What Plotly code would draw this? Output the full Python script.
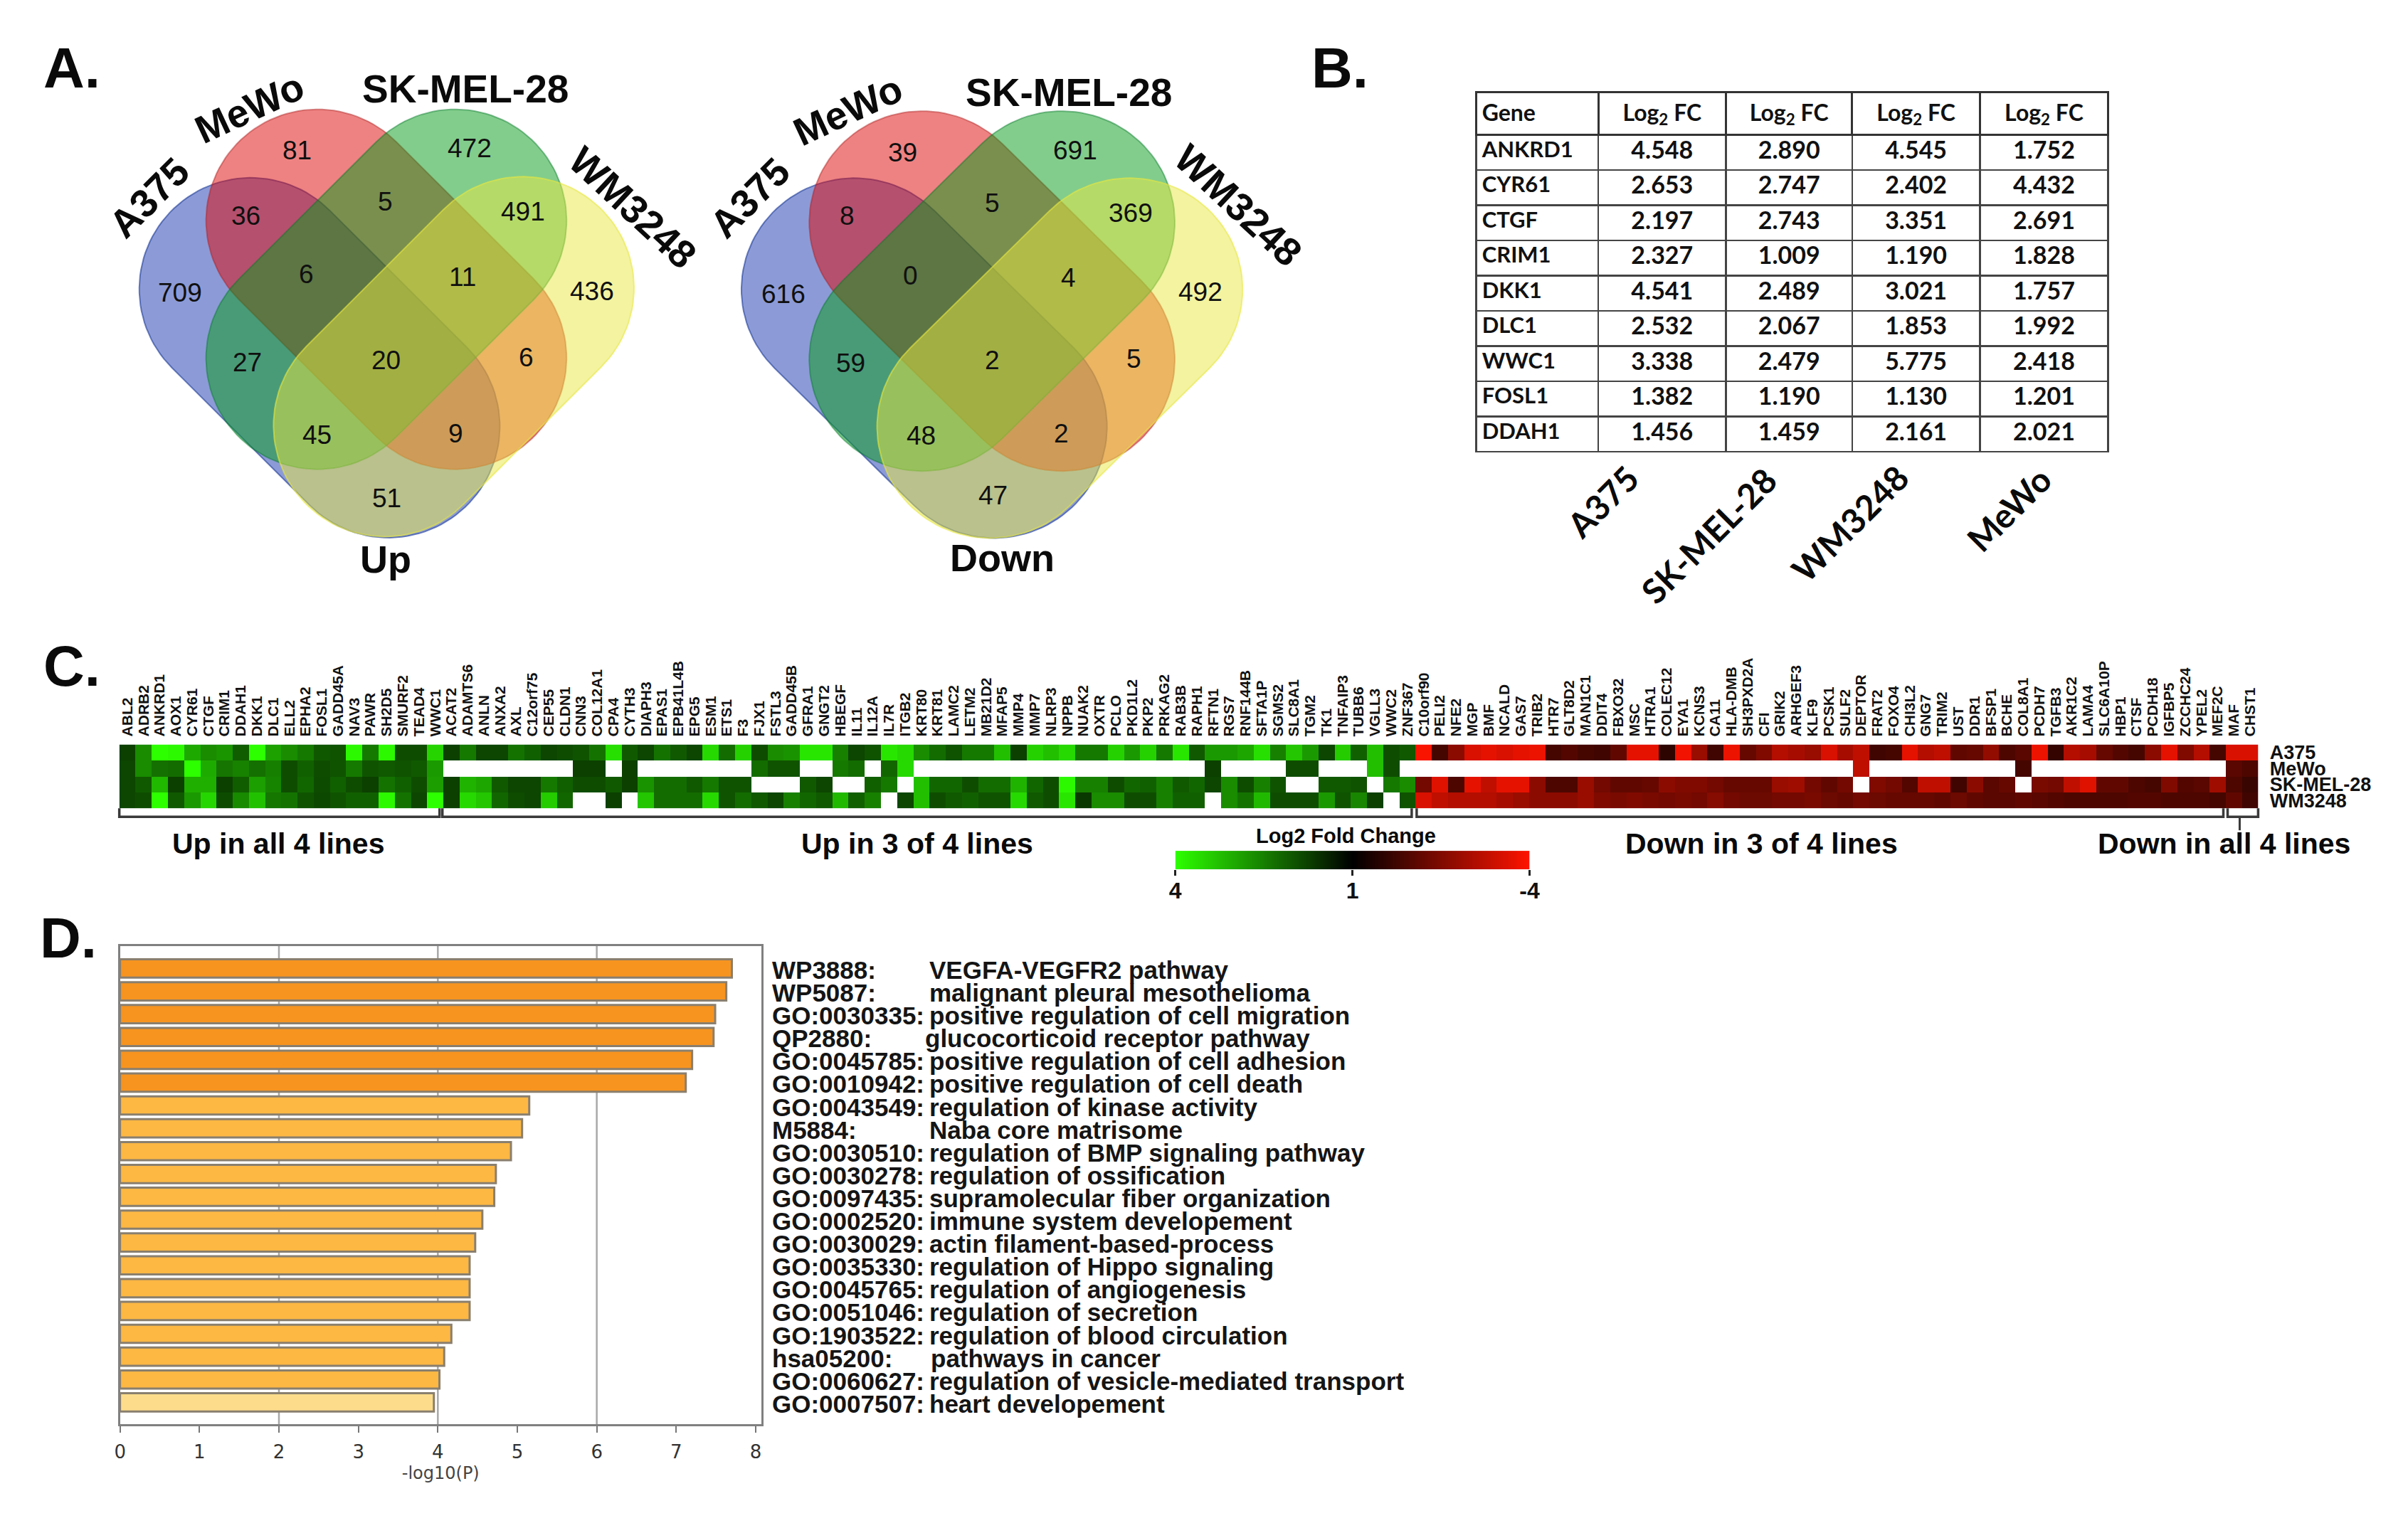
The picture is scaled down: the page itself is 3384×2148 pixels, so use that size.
import numpy as np
import plotly.graph_objects as go

W, H = 3384, 2148
X0, X1 = 8, 3376   # page span of the photographed figure
SANS = "Liberation Sans"
CAL = "Lato"

# ---------------- Panel A data ----------------
SET_NAMES = ["A375", "MeWo", "SK-MEL-28", "WM3248"]
UP_COUNTS = ["709", "81", "472", "36", "5", "491", "6", "11", "436", "27", "20", "6", "45", "9", "51"]
DOWN_COUNTS = ["616", "39", "691", "8", "5", "369", "0", "4", "492", "59", "2", "5", "48", "2", "47"]

# ---------------- Panel B data ----------------
TABLE_GENES = ["ANKRD1", "CYR61", "CTGF", "CRIM1", "DKK1", "DLC1", "WWC1", "FOSL1", "DDAH1"]
TABLE_A375 = ["4.548", "2.653", "2.197", "2.327", "4.541", "2.532", "3.338", "1.382", "1.456"]
TABLE_SK = ["2.890", "2.747", "2.743", "1.009", "2.489", "2.067", "2.479", "1.190", "1.459"]
TABLE_WM = ["4.545", "2.402", "3.351", "1.190", "3.021", "1.853", "5.775", "1.130", "2.161"]
TABLE_MEWO = ["1.752", "4.432", "2.691", "1.828", "1.757", "1.992", "2.418", "1.201", "2.021"]

# ---------------- Panel C data ----------------
GENES_UP4 = ["ABL2", "ADRB2", "ANKRD1", "AOX1", "CYR61", "CTGF", "CRIM1", "DDAH1", "DKK1", "DLC1", "ELL2", "EPHA2",
             "FOSL1", "GADD45A", "NAV3", "PAWR", "SH2D5", "SMURF2", "TEAD4", "WWC1"]
GENES_UP3 = ["ACAT2", "ADAMTS6", "ANLN", "ANXA2", "AXL", "C12orf75", "CEP55", "CLDN1", "CNN3", "COL12A1", "CPA4",
             "CYTH3", "DIAPH3", "EPAS1", "EPB41L4B", "EPG5", "ESM1", "ETS1", "F3", "FJX1", "FSTL3", "GADD45B", "GFRA1",
             "GNGT2", "HBEGF", "IL11", "IL12A", "IL7R", "ITGB2", "KRT80", "KRT81", "LAMC2", "LETM2", "MB21D2", "MFAP5",
             "MMP4", "MMP7", "NLRP3", "NPPB", "NUAK2", "OXTR", "PCLO", "PKD1L2", "PKP2", "PRKAG2", "RAB3B", "RAPH1",
             "RFTN1", "RGS7", "RNF144B", "SFTA1P", "SGMS2", "SLC8A1", "TGM2", "TK1", "TNFAIP3", "TUBB6", "VGLL3",
             "WWC2", "ZNF367"]
GENES_DOWN = ["C10orf90", "PELI2", "NFE2", "MGP", "BMF", "NCALD", "GAS7", "TRIB2", "HTR7", "GLT8D2", "MAN1C1", "DDIT4",
              "FBXO32", "MSC", "HTRA1", "COLEC12", "EYA1", "KCNS3", "CA11", "HLA-DMB", "SH3PXD2A", "CFI", "GRIK2",
              "ARHGEF3", "KLF9", "PCSK1", "SULF2", "DEPTOR", "FRAT2", "FOXO4", "CHI3L2", "GNG7", "TRIM2", "UST", "DDR1",
              "BFSP1", "BCHE", "COL8A1", "PCDH7", "TGFB3", "AKR1C2", "LAMA4", "SLC6A10P", "HBP1", "CTSF", "PCDH18",
              "IGFBP5", "ZCCHC24", "YPEL2", "MEF2C", "MAF", "CHST1"]
N = None
A375_UP4 = [1.0, 2.2, 4.55, 3.9, 2.65, 2.2, 2.33, 1.46, 4.54, 2.53, 2.2, 1.9, 1.38, 1.3, 3.9, 1.9, 3.9, 1.2, 1.2, 3.34]
MEWO_UP4 = [1.1, 2.2, 1.75, 1.7, 4.43, 2.69, 1.83, 2.02, 1.76, 1.99, 1.2, 1.5, 1.2, 1.3, 1.9, 1.3, 1.4, 1.3, 1.4, 2.42]
SK_UP4 = [1.1, 1.4, 2.89, 1.0, 2.75, 2.74, 1.01, 1.46, 2.49, 2.07, 1.2, 1.6, 1.19, 1.5, 1.2, 1.0, 1.8, 1.5, 1.2, 2.48]
WM_UP4 = [1.1, 1.2, 4.55, 1.4, 2.4, 3.35, 1.19, 2.16, 3.02, 1.85, 1.8, 1.3, 1.13, 1.3, 1.5, 1.5, 3.9, 1.8, 1.1, 5.78]
A375_UP3 = [1.0, 1.9, 1.1, 1.1, 1.8, 1.5, 1.1, 1.2, 1.3, 1.8, 3.5, 1.4, 1.1, 1.8, 1.4, 1.1, 3.4, 1.7, 3.3, 1.2, 2.2, 2.3,
            3.6, 3.6, 2.0, 1.1, 1.3, 3.6, 3.4, 2.2, 1.7, 1.3, 1.9, 1.9, 3.0, 1.0, 3.3, 3.0, 3.4, 1.9, 1.9, 3.3, 2.4, 3.3,
            1.9, 3.6, 1.4, 2.4, 2.4, 2.6, 3.5, 2.0, 3.1, 2.4, 1.1, 3.2, 1.5, 3.0, 1.2, 1.4]
MEWO_UP3 = [N, N, N, N, N, N, N, N, 1.0, 1.0, N, 1.0, N, N, N, N, N, N, N, 1.7, 1.3, 1.3,
            N, N, 1.9, 1.7, N, 1.6, 3.4, N, N, N, N, N, N, N, N, N, N, N, N, N, N, N,
            N, N, N, 1.0, N, N, N, N, 1.2, 1.2, N, N, N, 3.0, 1.2, N]
SK_UP3 = [1.0, 2.8, 2.6, 1.4, 1.1, 1.1, 1.9, 1.5, 1.2, 1.2, 1.4, 1.0, 2.3, 1.7, 1.7, 1.4, 1.9, 1.3, 1.3, N, N, N,
          1.4, 1.1, N, N, 1.5, 1.9, N, 3.0, 1.6, 1.6, 1.2, 1.7, 1.7, 2.8, 1.6, 1.2, 3.9, 2.0, 2.0, 1.2, 1.6, 1.5,
          2.0, 1.4, 1.6, 1.1, 2.2, 1.2, 2.0, 1.3, N, N, 1.4, 1.4, 1.3, N, 1.9, 2.2]
WM_UP3 = [1.0, 3.4, 3.1, 1.6, 1.2, 1.1, 3.2, 1.6, N, N, 1.0, N, 3.1, 1.7, 1.7, 1.7, 3.4, 1.3, 1.7, 1.4, 1.1, 2.0,
          1.6, 1.4, 2.9, 1.5, 2.0, N, 1.1, 3.0, 1.2, 1.4, 1.5, 1.3, 1.3, 3.4, 1.4, 1.2, 3.6, 0.9, 2.2, 2.2, 1.2, 1.2,
          2.0, 1.5, 1.5, N, 2.2, 1.8, 2.9, 1.2, 1.2, 1.2, 2.4, 1.3, 2.1, 1.0, N, 1.3]
A375_DOWN = [-3.9, -1.1, -2.2, -3.4, -3.6, -3.4, -3.6, -3.7, -1.1, -1.3, -1.1, -1.0, -1.5, -3.6, -3.6, -0.7, -3.8, -2.4,
             -1.0, -3.7, -1.6, -2.0, -2.8, -2.6, -2.4, -3.4, -2.6, -3.0, -1.0, -1.1, -3.6, -2.8, -3.0, -1.5, -1.6, -2.3,
             -1.2, -1.4, -3.7, -0.8, -2.8, -2.6, -1.6, -1.3, -1.1, -2.2, -3.6, -2.0, -2.8, -1.1, -3.4, -3.4]
MEWO_DOWN = [N] * 27 + [-3.0] + [N] * 9 + [-1.1] + [N] * 12 + [-1.4, -1.2]
SK_DOWN = [-1.8, -3.5, -1.2, -3.6, -3.0, -3.6, -3.6, -2.2, -1.2, -1.2, -2.4, -1.8, -1.5, -1.5, -1.6, -2.2, -2.0, -2.0,
           -1.8, -1.6, -1.6, -1.6, -2.4, -2.5, -1.8, -1.5, -1.8, N, -2.0, -1.8, -1.3, -3.0, -3.0, -1.0, -2.2, -1.4,
           -1.6, N, -1.9, -1.8, -3.0, -3.5, -1.5, -1.5, -1.2, -1.1, -2.0, -1.3, -1.4, -2.5, -1.2, -0.9]
WM_DOWN = [-3.4, -3.0, -2.8, -2.8, -2.8, -2.6, -2.4, -2.2, -2.2, -2.2, -2.4, -2.0, -1.9, -2.0, -1.9, -1.8, -1.9, -1.8,
           -2.1, -1.8, -1.7, -1.7, -1.8, -1.8, -1.9, -1.7, -1.6, -1.8, -1.7, -1.6, -1.6, -1.6, -1.5, -1.7, -1.5, -1.4,
           -1.4, -1.5, -1.4, -1.3, -1.2, -1.2, -1.2, -1.2, -1.3, -1.3, -1.2, -1.2, -1.2, -1.1, -1.5, -1.0]
HEAT_ROWS = ["A375", "MeWo", "SK-MEL-28", "WM3248"]
LEGEND_STEPS = [4, 3, 2, 1, 0, -1, -2, -3, -4]
LEGEND_TICKS = [4, 0, -4]
LEGEND_TICK_TEXT = ["4", "1", "-4"]

# ---------------- Panel D data ----------------
TERM_IDS = ["WP3888:", "WP5087:", "GO:0030335:", "QP2880:", "GO:0045785:", "GO:0010942:", "GO:0043549:", "M5884:",
            "GO:0030510:", "GO:0030278:", "GO:0097435:", "GO:0002520:", "GO:0030029:", "GO:0035330:", "GO:0045765:",
            "GO:0051046:", "GO:1903522:", "hsa05200:", "GO:0060627:", "GO:0007507:"]
TERM_NAMES = ["VEGFA-VEGFR2 pathway", "malignant pleural mesothelioma", "positive regulation of cell migration",
              "glucocorticoid receptor pathway", "positive regulation of cell adhesion",
              "positive regulation of cell death", "regulation of kinase activity", "Naba core matrisome",
              "regulation of BMP signaling pathway", "regulation of ossification", "supramolecular fiber organization",
              "immune system developement", "actin filament-based-process", "regulation of Hippo signaling",
              "regulation of angiogenesis", "regulation of secretion", "regulation of blood circulation",
              "pathways in cancer", "regulation of vesicle-mediated transport", "heart developement"]
LOG_P = [7.70, 7.63, 7.49, 7.47, 7.20, 7.12, 5.15, 5.06, 4.92, 4.73, 4.71, 4.56, 4.47, 4.40, 4.40, 4.40, 4.17, 4.08,
         4.02, 3.95]
BAR_TIER = [0] * 6 + [1] * 13 + [2]
TIER_COLORS = ["#F7941F", "#FDB843", "#FDDD8C"]

# ---------------- layout helpers ----------------
fig = go.Figure()
ann = []


def fx(px):
    return (px - X0) / (X1 - X0)


def fy(py):
    return 1 - py / H


def note(px, py, text, size, angle=0, bold=False, family=SANS, color="#0a0a0a", xanchor="center"):
    ann.append(dict(x=fx(px), y=fy(py), xref="paper", yref="paper", text=f"<b>{text}</b>" if bold else text,
                    showarrow=False, textangle=angle, xanchor=xanchor, yanchor="middle",
                    font=dict(family=family, size=size, color=color)))


def stadium(cx, cy, direction, sx=1.0, half_len=137.0, radius=157.0):
    """outline of a stadium whose long axis runs at 45 degrees"""
    base = np.pi / 4 if direction > 0 else -np.pi / 4
    t1 = np.linspace(base - np.pi / 2, base + np.pi / 2, 60)
    t2 = t1 + np.pi
    ux, uy = np.cos(base), np.sin(base)
    xs = np.r_[half_len * ux + radius * np.cos(t1), -half_len * ux + radius * np.cos(t2)]
    ys = np.r_[half_len * uy + radius * np.sin(t1), -half_len * uy + radius * np.sin(t2)]
    return np.r_[xs, xs[0]] * sx + cx, np.r_[ys, ys[0]] + cy


# overlay axis spanning the whole page, in page pixels
SET_FILL = ["rgba(26,56,176,0.5)", "rgba(221,5,5,0.5)", "rgba(5,155,25,0.5)", "rgba(231,231,65,0.5)"]
SET_LINE = ["rgba(26,56,150,0.6)", "rgba(170,30,30,0.45)", "rgba(5,120,40,0.45)", "rgba(231,231,65,0.6)"]
SET_DIR = [1, 1, -1, -1]


def venn(centers, sx):
    for c, d, fc, lc, name in zip(centers, SET_DIR, SET_FILL, SET_LINE, SET_NAMES):
        xs, ys = stadium(c[0], c[1], d, sx)
        fig.add_trace(go.Scatter(x=xs, y=ys, mode="lines", fill="toself", fillcolor=fc, name=name,
                                 line=dict(color=lc, width=2), xaxis="x4", yaxis="y4", hoverinfo="skip"))


venn([(449, 501.5), (543, 405), (543, 405), (638, 500)], 1.0)
venn([(1300.5, 502), (1396, 407.5), (1396, 407.5), (1491.5, 502)], 1.014)

UP_POS = [(253, 410), (417, 209), (660, 206), (345, 301), (542, 281), (736, 295), (430, 384), (650, 388), (833, 408),
          (347, 508), (543, 505), (740, 501), (445, 610), (641, 608), (544, 700)]
DOWN_POS = [(1102, 412), (1270, 212), (1513, 209), (1192, 301), (1396, 283), (1591, 297), (1281, 386), (1504, 389),
            (1689, 409), (1197, 509), (1396, 505), (1596, 503), (1296, 611), (1494, 608), (1397, 696)]
for counts, pos in ((UP_COUNTS, UP_POS), (DOWN_COUNTS, DOWN_POS)):
    for c, p in zip(counts, pos):
        note(p[0], p[1], c, 37, color="#101010")

note(542, 786, "Up", 54, bold=True)
note(1410, 784, "Down", 54, bold=True)

LABEL_SPOTS = [
    [(209, 276, -45), (350, 149, -25), (654, 122, 0), (890, 290, 43)],
    [(1055, 276, -45), (1193, 152, -25), (1504, 127, 0), (1743, 287, 43)],
]
for spots in LABEL_SPOTS:
    for name, (px, py, a) in zip(SET_NAMES, spots):
        note(px, py, name, 55, angle=a, bold=True)

# panel letters
note(100, 93, "A.", 80, bold=True)
note(1886, 93, "B.", 80, bold=True)
note(100, 937, "C.", 80, bold=True)
note(95, 1320, "D.", 80, bold=True)

# ---------------- table (B) ----------------
fig.add_trace(go.Table(
    domain=dict(x=[fx(2078), fx(2968)], y=[fy(645), fy(127)]),
    columnwidth=[172, 180, 178, 180, 181],
    header=dict(values=["<b>Gene</b>"] + ["<b>Log<sub>2</sub> FC</b>"] * 4,
                align=["left", "center", "center", "center", "center"], height=56,
                line=dict(color="#333333", width=3), fill=dict(color="white"),
                font=dict(family=CAL, size=32, color="#111111")),
    cells=dict(values=[TABLE_GENES, TABLE_A375, TABLE_SK, TABLE_WM, TABLE_MEWO],
               align=["left", "center", "center", "center", "center"], height=49.5,
               line=dict(color="#444444", width=2.5), fill=dict(color="white"),
               font=dict(family=CAL, size=[31, 34, 34, 34, 34], color="#111111", weight=700))))

for px, py, lab in ((2256, 704, "A375"), (2405, 752, "SK-MEL-28"), (2604, 735, "WM3248"), (2828, 715, "MeWo")):
    note(px, py, lab, 48, angle=-45, bold=True, family=CAL)

# ---------------- heatmap (C) ----------------
ALL_GENES = GENES_UP4 + GENES_UP3 + GENES_DOWN
Z = [A375_UP4 + A375_UP3 + A375_DOWN,
     MEWO_UP4 + MEWO_UP3 + MEWO_DOWN,
     SK_UP4 + SK_UP3 + SK_DOWN,
     WM_UP4 + WM_UP3 + WM_DOWN]
SCALE = [[0, "#ff1400"], [0.5, "#000000"], [1, "#2dff00"]]
fig.add_trace(go.Heatmap(z=Z, x=ALL_GENES, y=HEAT_ROWS, colorscale=SCALE, zmin=-4, zmax=4, showscale=False,
                         xaxis="x2", yaxis="y2", hoverongaps=False))
fig.add_trace(go.Heatmap(z=[LEGEND_STEPS], x=LEGEND_STEPS, y=["legend"], colorscale=SCALE, zmin=-4, zmax=4,
                         showscale=False, zsmooth="best", xaxis="x3", yaxis="y3"))

BRACKETS = [(167, 618), (622, 1987), (1994, 3130), (3136, 3179)]
for a, b in BRACKETS:
    fig.add_trace(go.Scatter(x=[a, a, b, b], y=[1137, 1149, 1149, 1137], mode="lines",
                             line=dict(color="#3a3a3a", width=3.5), xaxis="x4", yaxis="y4", hoverinfo="skip"))
fig.add_trace(go.Scatter(x=[3153, 3153], y=[1150, 1168], mode="lines", line=dict(color="#3a3a3a", width=3),
                         xaxis="x4", yaxis="y4", hoverinfo="skip"))

note(391, 1187, "Up in all 4 lines", 41, bold=True)
note(1291, 1187, "Up in 3 of 4 lines", 41, bold=True)
note(2480, 1187, "Down in 3 of 4 lines", 41, bold=True)
note(3131, 1187, "Down in all 4 lines", 41, bold=True)
note(1894, 1176, "Log2 Fold Change", 29, bold=True)

# ---------------- bars (D) ----------------
terms = list(range(len(LOG_P)))
fig.add_trace(go.Bar(x=LOG_P, y=terms, orientation="h", xaxis="x", yaxis="y", width=0.8,
                     marker=dict(color=[TIER_COLORS[t] for t in BAR_TIER], line=dict(color="#8a7f6e", width=3))))
for i, (tid, tn) in enumerate(zip(TERM_IDS, TERM_NAMES)):
    ann.append(dict(x=fx(1084), y=i, xref="paper", yref="y", yshift=-2, text=f"<b>{tid}</b>", showarrow=False,
                    xanchor="left", font=dict(family=SANS, size=35, color="#151515")))
    nudge = {3: 1300, 17: 1308}.get(i, 1306)
    ann.append(dict(x=fx(nudge), y=i, xref="paper", yref="y", yshift=-2, text=f"<b>{tn}</b>", showarrow=False,
                    xanchor="left", font=dict(family=SANS, size=35, color="#151515")))

shapes = [dict(type="line", x0=v, x1=v, y0=0, y1=1, xref="x", yref="y domain", layer="below",
               line=dict(color="#a8a8a8", width=2.5)) for v in (2, 4, 6)]

tickfont = dict(family="DejaVu Sans", size=26, color="#333333")
fig.update_layout(
    width=W, height=H, margin=dict(l=0, r=0, t=0, b=0), paper_bgcolor="white", plot_bgcolor="rgba(0,0,0,0)",
    showlegend=False, annotations=ann, shapes=shapes, bargap=0.2,
    xaxis=dict(domain=[fx(168), fx(1071)], range=[0, 8.07], tickvals=list(range(9)), ticks="outside", ticklen=9,
               tickwidth=2, tickcolor="#777", showgrid=False, zeroline=False, showline=True, mirror=True,
               linecolor="#808080", linewidth=3, tickfont=tickfont, anchor="y", ticklabelstandoff=4,
               title=dict(text="-log10(P)", standoff=8, font=dict(family="DejaVu Sans", size=24, color="#444"))),
    yaxis=dict(domain=[fy(2006), fy(1331)], range=[19.97, -0.99], showticklabels=False, ticks="", showgrid=False,
               zeroline=False, showline=True, mirror=True, linecolor="#808080", linewidth=3, anchor="x"),
    xaxis2=dict(domain=[fx(167), fx(3179)], side="top", anchor="y2", type="category", tickmode="array",
                tickvals=ALL_GENES, ticktext=ALL_GENES, tickangle=-90, ticks="outside", ticklen=6,
                tickcolor="rgba(0,0,0,0)", showgrid=False, zeroline=False, showline=False,
                tickfont=dict(family=SANS, size=21, color="#111", weight=700)),
    yaxis2=dict(domain=[fy(1137), fy(1047)], side="right", anchor="x2", autorange="reversed", type="category",
                tickmode="array", tickvals=HEAT_ROWS, ticktext=HEAT_ROWS,
                ticks="outside", ticklen=10, tickcolor="rgba(0,0,0,0)", showgrid=False, zeroline=False, showline=False,
                tickfont=dict(family=SANS, size=27, color="#111", weight=700)),
    xaxis3=dict(domain=[fx(1654), fx(2153)], anchor="y3", range=[4, -4], tickmode="array", tickvals=LEGEND_TICKS,
                ticktext=LEGEND_TICK_TEXT, ticks="outside", ticklen=8, tickwidth=3, tickcolor="#222", showgrid=False,
                zeroline=False, showline=False, ticklabelstandoff=-6,
                tickfont=dict(family=SANS, size=32, color="#111", weight=700)),
    yaxis3=dict(domain=[fy(1223), fy(1197)], anchor="x3", showticklabels=False, ticks="", showgrid=False,
                zeroline=False, showline=False),
    xaxis4=dict(domain=[0, 1], range=[X0, X1], visible=False, anchor="y4", fixedrange=True),
    yaxis4=dict(domain=[0, 1], range=[H, 0], visible=False, anchor="x4", fixedrange=True),
)

RESET_PAGE = ("var s=document.createElement('style');"
              "s.textContent='html,body{margin:0!important;padding:0!important;overflow:hidden}';"
              "document.head.appendChild(s);")
fig.write_html("out.html", config={"displayModeBar": False}, post_script=RESET_PAGE)
